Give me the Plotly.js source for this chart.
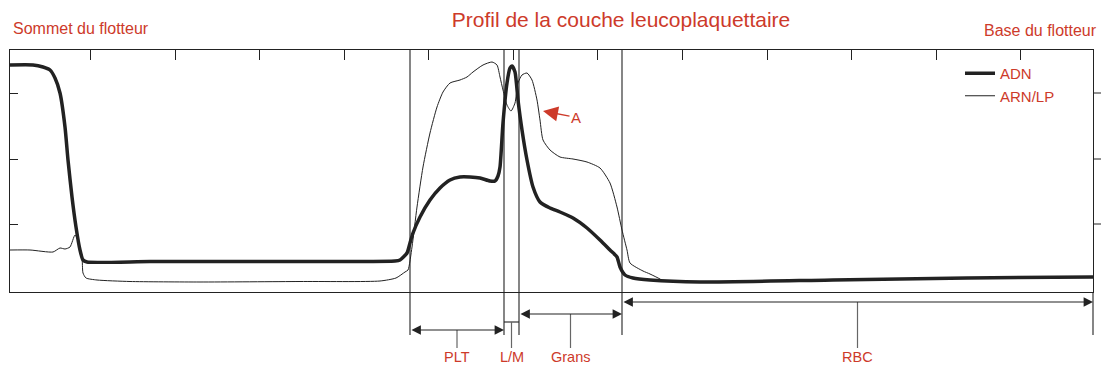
<!DOCTYPE html>
<html><head><meta charset="utf-8">
<script src="https://cdn.plot.ly/plotly-3.0.1.min.js"></script>
<style>body{margin:0;background:#fff}#chart{width:1101px;height:367px}</style>
</head><body><div id="chart"></div>
<script>
// ---- data (position along the tube, signal intensity) ----
const adnX = [10,33,43,50,55,60,65,68,72,76,80,83,87,150,250,350,395,400,407,410,413,420,430,440,450,460,470,480,490,495,498,500,503,507,510,512,515,518,522,527,533,540,550,560,573,587,600,610,617,620,625,633,650,700,833,967,1093];
const adnY = [227,227,225,222,214,199,165,132,95,65,42,32,30,30.5,30.5,30.5,31,32,39,49,59,75,92,104,112,115,115,114,111,111,116,125,169,209,224,226,220,192,162,132,105,90,84,80,74,64,52,42,35,25,17,14,12,10,12,14,15];
const arnX = [10,30,53,60,65,70,75,78,82,83,86,97,130,200,300,380,396,405,408,412,417,423,430,437,443,450,460,467,473,483,492,497,500,503,507,511,515,518,522,527,532,537,540,543,550,560,573,587,600,610,617,622,627,630,643,650,660,663,700,833,967,1093];
const arnY = [42,42,40,44,43,45,57,52,35,19,14,12,10.5,10,10.5,11,14,20,22,45,85,125,159,185,200,209,212,215,220,227,230,227,215,202,187,181,189,209,217,219,212,192,172,152,142,135,133,130,124,109,85,62,42,29,21,18,13,11,10.5,12,14,15];
const seriesNames = ['ADN', 'ARN/LP'];
const regionNames = ['PLT', 'L/M', 'Grans', 'RBC'];
const regionStart = [410, 504, 519, 622];
const regionEnd = [504, 519, 622, 1093];
const topTicks = [90,175,259,344,428,513,597,682,767,851,936,1020];
const sideTicks = [68,133,199];
const chartTitle = 'Profil de la couche leucoplaquettaire';
const leftLabel = 'Sommet du flotteur';
const rightLabel = 'Base du flotteur';
const markerLabel = 'A';
const markerHead = [543, 181];
const markerText = [576, 174.5];

// ---- styling / layout helpers ----
const RED = '#cd3a2a';
const INK = '#222';
const xRange = [10, 1093];
const yRange = [0, 242];
const M = {l: 10, r: 8, t: 50, b: 75};
const plotH = 367 - M.t - M.b;
const plotW = 1101 - M.l - M.r;
const px = x => (x - xRange[0]) / (xRange[1] - xRange[0]);
const below = d => -d / plotH;
const FONT = 'Liberation Sans, Arial, sans-serif';

const traces = [
  {x: arnX, y: arnY, name: seriesNames[1], mode: 'lines', line: {color: INK, width: 1, shape: 'spline', smoothing: 0.6}},
  {x: adnX, y: adnY, name: seriesNames[0], mode: 'lines', line: {color: INK, width: 3.5, shape: 'spline', smoothing: 0.6}}
];

const shapes = [];
const annotations = [];
const lineSty = {color: INK, width: 1.1};
// region boundaries (inside plot and extending below)
const bounds = Array.from(new Set(regionStart.concat(regionEnd)));
bounds.forEach(b => {
  shapes.push({type: 'line', xref: 'paper', yref: 'paper', x0: px(b), x1: px(b), y0: below(43), y1: (b === xRange[1] ? 0 : 1), line: lineSty});
});
// right-side outside ticks
sideTicks.forEach(t => {
  const yp = (t - yRange[0]) / (yRange[1] - yRange[0]);
  shapes.push({type: 'line', xref: 'paper', yref: 'paper', x0: 1, x1: 1 + 8 / plotW, y0: yp, y1: yp, line: {color: INK, width: 1}});
});
const arrowOffset = {'PLT': 38, 'Grans': 22, 'RBC': 10};
regionNames.forEach((name, i) => {
  const a = regionStart[i], b = regionEnd[i], mid = (a + b) / 2;
  let yOff;
  if (name in arrowOffset) {
    yOff = arrowOffset[name];
    annotations.push({xref: 'x', yref: 'paper', x: b, y: below(yOff), axref: 'x', ax: a, ayref: 'pixel', ay: 0,
      text: '', showarrow: true, arrowside: 'end+start', arrowhead: 2, startarrowhead: 2,
      arrowsize: 1.7, startarrowsize: 1.7, arrowwidth: 1.1, arrowcolor: INK, standoff: 0, startstandoff: 0});
  } else {
    yOff = 30;
    shapes.push({type: 'line', xref: 'paper', yref: 'paper', x0: px(a), x1: px(b), y0: below(yOff), y1: below(yOff), line: lineSty});
  }
  shapes.push({type: 'line', xref: 'paper', yref: 'paper', x0: px(mid), x1: px(mid), y0: below(yOff), y1: below(56), line: {color: '#666', width: 1.2}});
  annotations.push({xref: 'paper', yref: 'paper', x: px(mid), y: below(65), text: name, showarrow: false, borderpad: 0,
    xanchor: 'center', yanchor: 'middle', font: {family: FONT, size: 14.5, color: RED}});
});
// side labels
annotations.push({xref: 'paper', yref: 'paper', x: px(11), y: 1 + 21 / plotH, text: leftLabel, showarrow: false,
  xanchor: 'left', yanchor: 'middle', font: {family: FONT, size: 16, color: RED}});
annotations.push({xref: 'paper', yref: 'paper', x: px(1099), y: 1 + 20 / plotH, text: rightLabel, showarrow: false,
  xanchor: 'right', yanchor: 'middle', font: {family: FONT, size: 16, color: RED}});
// marker A
annotations.push({xref: 'x', yref: 'y', x: markerHead[0], y: markerHead[1], axref: 'x', ayref: 'y', ax: markerText[0], ay: markerText[1],
  text: markerLabel, showarrow: true, arrowhead: 2, arrowsize: 2.3, arrowwidth: 1.3, arrowcolor: RED, standoff: 0,
  font: {family: FONT, size: 15, color: RED}});

const layout = {
  width: 1101, height: 367, margin: M,
  paper_bgcolor: '#fff', plot_bgcolor: '#fff',
  font: {family: FONT, color: INK},
  title: {text: chartTitle, font: {family: FONT, size: 21, color: RED}, xref: 'container', x: 621 / 1101, xanchor: 'center', yref: 'container', y: 1 - 20 / 367, yanchor: 'middle'},
  xaxis: {range: xRange, side: 'top', showline: true, mirror: true, linecolor: INK, linewidth: 1.2,
    ticks: 'inside', ticklen: 10, tickwidth: 1, tickcolor: INK, tickmode: 'array', tickvals: topTicks, showticklabels: false,
    showgrid: false, zeroline: false, fixedrange: true},
  yaxis: {range: yRange, showline: true, mirror: true, linecolor: INK, linewidth: 1.2,
    ticks: 'inside', ticklen: 8, tickwidth: 1, tickcolor: INK, tickmode: 'array', tickvals: sideTicks, showticklabels: false,
    showgrid: false, zeroline: false, fixedrange: true},
  showlegend: true,
  legend: {x: px(960), y: 1 - 7 / plotH, xanchor: 'left', yanchor: 'top', traceorder: 'reversed', bgcolor: 'rgba(0,0,0,0)',
    borderwidth: 0, font: {family: FONT, size: 15, color: RED}},
  shapes: shapes, annotations: annotations
};
Plotly.newPlot('chart', traces, layout, {displayModeBar: false, staticPlot: true});
</script></body></html>
